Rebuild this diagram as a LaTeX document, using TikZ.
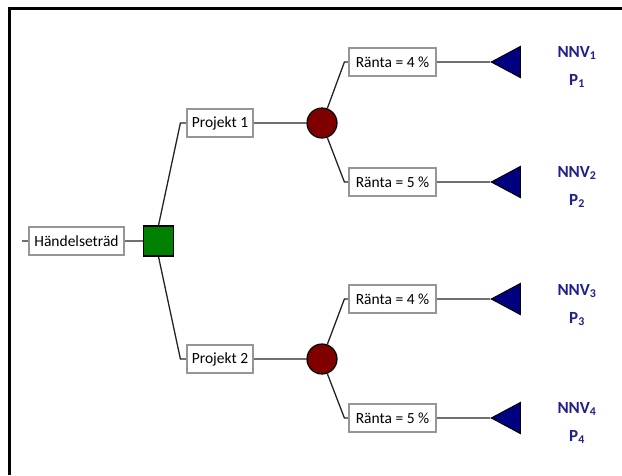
\documentclass[tikz,border=0pt]{standalone}
\usepackage{fontspec}
\setmainfont{Carlito}
\usepackage{tikz}
\usetikzlibrary{shapes.geometric}
\usetikzlibrary{positioning}
\usetikzlibrary{backgrounds}

\definecolor{beslutgreen}{RGB}{0,128,0}
\definecolor{slumpred}{RGB}{128,0,0}
\definecolor{slutblue}{RGB}{0,0,128}
\definecolor{nnvblue}{RGB}{32,32,140}
\definecolor{boxgray}{RGB}{150,150,150}
\definecolor{linegray}{RGB}{35,35,35}

\begin{document}
\begin{tikzpicture}[x=1pt,y=-1pt,
        every node/.style={font=\fontsize{15.5}{18}\selectfont},
        textbox/.style={rectangle,draw=boxgray,line width=1.2pt,fill=white,minimum height=28pt,inner sep=0pt},
        decision/.style={rectangle,draw=black,line width=1.2pt,fill=beslutgreen,minimum size=30pt,inner sep=0pt},
        chance/.style={circle,draw=black,line width=1.2pt,fill=slumpred,minimum size=30pt,inner sep=0pt},
        endnode/.style={isosceles triangle,shape border rotate=180,isosceles triangle stretches,
          draw=black,line width=1pt,fill=slutblue,minimum width=31pt,minimum height=29pt,inner sep=0pt},
        result/.style={text=nnvblue,font=\fontsize{17}{20}\selectfont\bfseries},
        conn/.style={draw=linegray,line width=1.3pt}]

        \useasboundingbox (0,0) rectangle (622,475);

        % ram
        \draw [line width=3pt] (9.5,475) -- (9.5,8.5) -- (622,8.5);

        \coordinate (start) at (22,241);
        \node [textbox,minimum width=95pt] (hand)   at (76.5,241) {Händelseträd};
        \node [decision] (beslut) [right of=hand, node distance=82pt] {};

        \node [textbox,minimum width=66pt] (proj1) at (220,123) {Projekt 1};
        \node [textbox,minimum width=66pt] (proj2) at (220,359) {Projekt 2};
        \node [chance] (slump1) [right of=proj1, node distance=102pt] {};
        \node [chance] (slump2) [right of=proj2, node distance=102pt] {};

        \node [textbox,minimum width=87pt] (r1) at (392.5,62)  {Ränta = 4 \%};
        \node [textbox,minimum width=87pt] (r2) at (392.5,182) {Ränta = 5 \%};
        \node [textbox,minimum width=87pt] (r3) at (392.5,299) {Ränta = 4 \%};
        \node [textbox,minimum width=87pt] (r4) at (392.5,418) {Ränta = 5 \%};

        \node [endnode,anchor=apex] (t1) at (490,62)  {};
        \node [endnode,anchor=apex] (t2) at (490,182) {};
        \node [endnode,anchor=apex] (t3) at (490,299) {};
        \node [endnode,anchor=apex] (t4) at (490,418) {};

        \node [result] (nnv1) at (577,53)  {NNV\textsubscript{1}};
        \node [result] (p1)   at (577,81)  {P\textsubscript{1}};
        \node [result] (nnv2) at (577,173) {NNV\textsubscript{2}};
        \node [result] (p2)   at (577,201) {P\textsubscript{2}};
        \node [result] (nnv3) at (577,291) {NNV\textsubscript{3}};
        \node [result] (p3)   at (577,319) {P\textsubscript{3}};
        \node [result] (nnv4) at (577,409) {NNV\textsubscript{4}};
        \node [result] (p4)   at (577,437) {P\textsubscript{4}};

        \begin{pgfonlayer}{background}
        \path [conn]
          (start) -- (hand.west)
          (hand.east) -- (beslut.west)
          (beslut.north) -- ([xshift=-6pt]proj1.west) -- (proj1.west)
          (beslut.south) -- ([xshift=-6pt]proj2.west) -- (proj2.west)
          (proj1.east) -- (slump1.west)
          (proj2.east) -- (slump2.west)
          (slump1.70)  -- ([xshift=-4pt]r1.west) -- (r1.west)
          (slump1.-70) -- ([xshift=-4pt]r2.west) -- (r2.west)
          (slump2.70)  -- ([xshift=-4pt]r3.west) -- (r3.west)
          (slump2.-70) -- ([xshift=-4pt]r4.west) -- (r4.west)
          (r1.east) -- (t1.apex)
          (r2.east) -- (t2.apex)
          (r3.east) -- (t3.apex)
          (r4.east) -- (t4.apex);
        \end{pgfonlayer}
      \end{tikzpicture}
\end{document}
